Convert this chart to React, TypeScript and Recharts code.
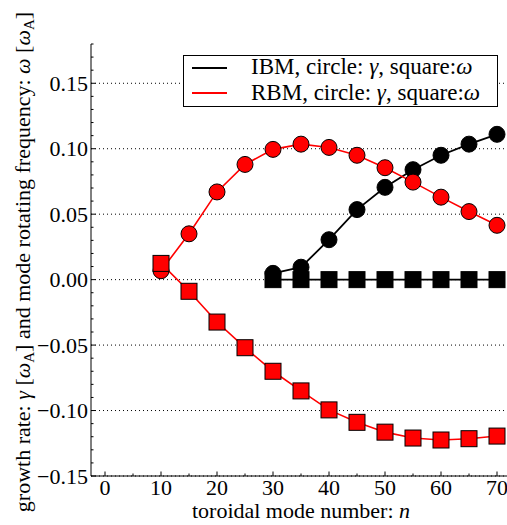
import React from "react";
import {
  LineChart,
  Line,
  XAxis,
  YAxis,
  CartesianGrid,
  Legend,
} from "recharts";

const FONT = "Liberation Serif, Tinos, DejaVu Serif, serif";

// toroidal mode numbers
const N_RBM = [10, 15, 20, 25, 30, 35, 40, 45, 50, 55, 60, 65, 70];
const N_IBM = [30, 35, 40, 45, 50, 55, 60, 65, 70];

// growth rate (circles) and rotation frequency (squares), in omega_A
const RBM_GAMMA = [0.0068, 0.035, 0.067, 0.088, 0.0995, 0.1035, 0.101, 0.095, 0.0855, 0.0745, 0.063, 0.052, 0.0415];
const RBM_OMEGA = [0.0124, -0.0089, -0.0324, -0.052, -0.07, -0.085, -0.0995, -0.109, -0.1165, -0.121, -0.1225, -0.1215, -0.1195];
const IBM_GAMMA = [0.0048, 0.0095, 0.0305, 0.0535, 0.0705, 0.084, 0.095, 0.1035, 0.111];
const IBM_OMEGA = [0, 0, 0, 0, 0, 0, 0, 0, 0];

const X_TICKS = [0, 5, 10, 15, 20, 25, 30, 35, 40, 45, 50, 55, 60, 65, 70];
const X_MAJOR = [0, 10, 20, 30, 40, 50, 60, 70];
const Y_TICKS = [
  -0.15, -0.14, -0.13, -0.12, -0.11, -0.1, -0.09, -0.08, -0.07, -0.06, -0.05,
  -0.04, -0.03, -0.02, -0.01, 0, 0.01, 0.02, 0.03, 0.04, 0.05, 0.06, 0.07,
  0.08, 0.09, 0.1, 0.11, 0.12, 0.13, 0.14, 0.15, 0.16, 0.17, 0.18,
];
const Y_MAJOR = [-0.15, -0.1, -0.05, 0, 0.05, 0.1, 0.15];

const rbmGamma = N_RBM.map((n, i) => ({ n, v: RBM_GAMMA[i] }));
const rbmOmega = N_RBM.map((n, i) => ({ n, v: RBM_OMEGA[i] }));
const ibmGamma = N_IBM.map((n, i) => ({ n, v: IBM_GAMMA[i] }));
const ibmOmega = N_IBM.map((n, i) => ({ n, v: IBM_OMEGA[i] }));

const isMajorX = (v: number) => v % 10 === 0;
const isMajorY = (v: number) => Math.round(v * 100) % 5 === 0;

function fmtY(v: number) {
  const s = Math.abs(v).toFixed(2);
  return v < -1e-9 ? "\u2212" + s : s;
}

function BottomTick(props: any) {
  const { x, y, payload } = props;
  const major = isMajorX(payload.value);
  return (
    <g>
      <line x1={x} x2={x} y1={y} y2={y - (major ? 4.5 : 2.5)} stroke="#000" strokeWidth={1} />
      {major && (
        <text x={x} y={y + 19} textAnchor="middle" style={{ fontFamily: FONT }} fontSize={22} fill="#000">
          {payload.value}
        </text>
      )}
    </g>
  );
}

function TopTick(props: any) {
  const { x, y, payload } = props;
  const major = isMajorX(payload.value);
  return <line x1={x} x2={x} y1={y} y2={y + (major ? 4.5 : 2.5)} stroke="#000" strokeWidth={1} />;
}

function LeftTick(props: any) {
  const { x, y, payload } = props;
  const major = isMajorY(payload.value);
  return (
    <g>
      <line x1={x} x2={x + (major ? 4.5 : 2.5)} y1={y} y2={y} stroke="#000" strokeWidth={1} />
      {major && (
        <text x={x - 3} y={y + 7.5} textAnchor="end" style={{ fontFamily: FONT }} fontSize={22} fill="#000">
          {fmtY(payload.value)}
        </text>
      )}
    </g>
  );
}

function YLabel(props: any) {
  const { viewBox } = props;
  const cx = viewBox.x + 30;
  const cy = viewBox.y + viewBox.height / 2 + 2;
  return (
    <text
      x={cx}
      y={cy}
      transform={`rotate(-90 ${cx} ${cy})`}
      textAnchor="middle"
      style={{ fontFamily: FONT }}
      fontSize={22}
      fill="#000"
    >
      growth rate: <tspan fontStyle="italic">γ</tspan> [<tspan fontStyle="italic">ω</tspan>
      <tspan fontSize={15} dy={4}>A</tspan>
      <tspan dy={-4}>] and mode rotating frequency: </tspan>
      <tspan fontStyle="italic">ω</tspan> [<tspan fontStyle="italic">ω</tspan>
      <tspan fontSize={15} dy={4}>A</tspan>
      <tspan dy={-4}>]</tspan>
    </text>
  );
}

function XLabel(props: any) {
  const { viewBox } = props;
  return (
    <text
      x={viewBox.x + 210}
      y={viewBox.y + 42}
      textAnchor="middle"
      style={{ fontFamily: FONT }}
      fontSize={22}
      fill="#000"
    >
      toroidal mode number: <tspan fontStyle="italic">n</tspan>
    </text>
  );
}

function squareDot(fill: string) {
  return (props: any) => {
    const { cx, cy, index } = props;
    if (cx == null || cy == null) return <g key={index} />;
    return (
      <rect key={index} x={cx - 8} y={cy - 8} width={16} height={16} fill={fill} stroke="#000" strokeWidth={1} />
    );
  };
}

const LEGEND_ITEMS = [
  { name: "IBM", color: "#000000" },
  { name: "RBM", color: "#ff0000" },
];

function LegendBox() {
  return (
    <div
      style={{
        position: "relative",
        width: 315,
        height: 52,
        boxSizing: "border-box",
        border: "1px solid #000",
        background: "#fff",
        fontFamily: FONT,
        fontSize: 23,
        lineHeight: "23px",
        color: "#000",
      }}
    >
      {LEGEND_ITEMS.map((item, i) => (
        <React.Fragment key={item.name}>
          <div
            style={{
              position: "absolute",
              left: 8,
              top: i === 0 ? 10.5 : 35.5,
              width: 35,
              height: 2,
              background: item.color,
            }}
          />
          <div style={{ position: "absolute", left: 67, top: i === 0 ? -1.5 : 24.5, whiteSpace: "nowrap" }}>
            {item.name}, circle: <i>γ</i>, square:<i>ω</i>
          </div>
        </React.Fragment>
      ))}
    </div>
  );
}

export default function App() {
  return (
    <div style={{ position: "absolute", left: 0, top: 0, width: 507, height: 525, overflow: "hidden", background: "#fff", fontFamily: FONT }}>
      <LineChart width={520} height={525} margin={{ top: 44, right: 9, bottom: 0, left: 0 }} style={{ fontFamily: FONT }}>
        <CartesianGrid
          stroke="#000"
          strokeWidth={1}
          strokeDasharray="1 3"
          verticalValues={X_MAJOR}
          horizontalValues={Y_MAJOR}
        />
        <XAxis
          xAxisId="bottom"
          type="number"
          dataKey="n"
          domain={[-2.5, 72.5]}
          allowDataOverflow
          ticks={X_TICKS}
          interval={0}
          height={49}
          tickSize={0}
          tickMargin={0}
          tickLine={false}
          tick={<BottomTick />}
          axisLine={{ stroke: "#000", strokeWidth: 1 }}
          label={<XLabel />}
        />
        <XAxis
          xAxisId="top"
          orientation="top"
          type="number"
          dataKey="n"
          domain={[-2.5, 72.5]}
          allowDataOverflow
          ticks={X_TICKS}
          interval={0}
          height={0}
          tickSize={0}
          tickMargin={0}
          tickLine={false}
          tick={<TopTick />}
          axisLine={{ stroke: "#000", strokeWidth: 1 }}
        />
        <YAxis
          type="number"
          dataKey="v"
          domain={[-0.15, 0.18]}
          allowDataOverflow
          ticks={Y_TICKS}
          interval={0}
          width={91}
          tickSize={0}
          tickMargin={0}
          tickLine={false}
          tick={<LeftTick />}
          axisLine={{ stroke: "#000", strokeWidth: 1 }}
          label={<YLabel />}
        />
        <Legend
          layout="horizontal"
          verticalAlign="middle"
          align="center"
          wrapperStyle={{ position: "absolute", left: 183, top: 55, width: 315, height: 52 }}
          content={<LegendBox />}
        />
        <Line
          xAxisId="bottom"
          data={ibmGamma}
          dataKey="v"
          stroke="#000"
          strokeWidth={1.8}
          dot={{ r: 8, fill: "#000", stroke: "#000", strokeWidth: 1 }}
          isAnimationActive={false}
        />
        <Line
          xAxisId="bottom"
          data={ibmOmega}
          dataKey="v"
          stroke="#000"
          strokeWidth={1.8}
          dot={squareDot("#000")}
          isAnimationActive={false}
        />
        <Line
          xAxisId="bottom"
          data={rbmGamma}
          dataKey="v"
          stroke="#ff0000"
          strokeWidth={1.6}
          dot={{ r: 8, fill: "#ff0000", stroke: "#000", strokeWidth: 1 }}
          isAnimationActive={false}
        />
        <Line
          xAxisId="bottom"
          data={rbmOmega}
          dataKey="v"
          stroke="#ff0000"
          strokeWidth={1.6}
          dot={squareDot("#ff0000")}
          isAnimationActive={false}
        />
      </LineChart>
    </div>
  );
}
